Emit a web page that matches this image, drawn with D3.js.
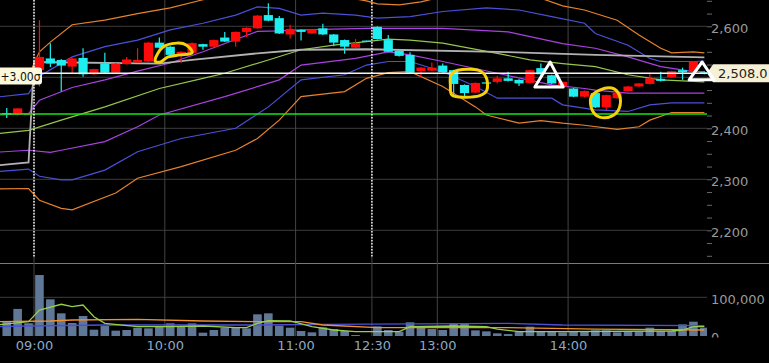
<!DOCTYPE html>
<html>
<head>
<meta charset="utf-8">
<script src="https://cdn.jsdelivr.net/npm/d3@7"></script>
<style>
body { margin: 0; background: #000; overflow: hidden; }
</style>
</head>
<body>
<script>
var width = 769, height = 363;

// 5-minute candles, slot 0 = 09:00, slot 31 = 12:30 (first three are previous day)
var firstSlot = -3;
var opens  = [2430,2426,2428, 2514,2537,2534,2521,2538,2506,2527,2509,2526,2529,2531,2568,2560,2544,2548,2565,2560,2578,2570,2589,2596,2622,2616,2584,2593,2586,2596,2584,2573,2558,2572, 2599,2573,2552,2544,2512,2513,2523,2514,2485,2470,2490,2491,2498,2495,2489,2518,2504,2482,2478,2462,2469,2441,2459,2473,2482,2487,2497,2500,2514,2511,2510];
var highs  = [2440,2440,2428, 2612,2567,2536,2538,2557,2517,2548,2528,2540,2557,2569,2578,2561,2551,2568,2566,2574,2589,2590,2598,2622,2645,2620,2603,2594,2595,2605,2585,2574,2575,2572, 2600,2583,2553,2549,2520,2529,2527,2515,2486,2490,2491,2503,2511,2496,2515,2527,2505,2492,2479,2474,2470,2466,2471,2483,2489,2509,2511,2513,2519,2532,2512];
var lows   = [2420,2425,2428, 2482,2520,2472,2508,2501,2505,2508,2508,2525,2528,2530,2557,2543,2528,2547,2554,2559,2569,2560,2579,2595,2610,2585,2576,2572,2585,2583,2561,2546,2557,2571, 2574,2549,2541,2508,2500,2512,2509,2465,2461,2469,2488,2488,2492,2483,2488,2505,2487,2481,2461,2461,2440,2436,2458,2472,2481,2486,2492,2499,2495,2510,2506];
var closes = [2429,2439,2428, 2540,2527,2523,2537,2506,2516,2509,2527,2535,2534,2568,2558,2544,2550,2567,2560,2573,2570,2589,2597,2621,2611,2586,2595,2589,2594,2584,2568,2560,2567,2571, 2575,2550,2542,2509,2519,2519,2510,2487,2469,2489,2489,2498,2493,2488,2514,2506,2488,2491,2462,2473,2441,2465,2470,2482,2488,2498,2493,2512,2510,2531,2508];
var volumes = [37000,70000,33000, 157600,94800,58600,33600,51700,16300,25800,13800,15500,21500,19800,25800,32700,25800,32700,8600,15500,21500,21500,19800,56000,58600,26600,21500,12900,9500,22400,18000,12900,2600,0, 25000,15500,11200,35400,25800,18000,15500,32700,31000,14600,12000,6900,5000,11200,24100,12900,12900,9500,12900,11200,14600,14600,9500,12900,11200,21500,12900,12900,30100,37000,21500];

// bands: [slot, price]
var bandUp3 = [[-4,2503],[-1,2503],[0,2550],[1,2569],[3,2603],[6,2612],[9,2625],[12,2636],[15,2652],[18,2663],[24,2671],[28,2657],[30,2650],[31,2644],[33,2642],[35,2648],[38,2663],[44,2663],[46,2655],[48,2640],[50,2632],[53,2612],[55,2583],[57,2557],[58,2548],[60,2550],[61,2548]];
var bandUp2 = [[-4,2461],[-1,2468],[0,2502],[3,2540],[6,2560],[9,2573],[12,2593],[15,2606],[18,2622],[20,2638],[22,2635],[24,2622],[26,2626],[29,2622],[31,2616],[34,2619],[37,2629],[41,2636],[44,2632],[47,2619],[50,2606],[51,2586],[54,2563],[56,2537],[57,2531],[60,2531],[61,2532]];
var bandUp1 = [[-4,2426],[-1,2429],[0,2455],[3,2480],[6,2495],[9,2512],[12,2528],[15,2550],[20,2590],[22,2591],[24,2593],[30,2596],[37,2596],[43,2589],[48,2566],[51,2557],[54,2540],[57,2521],[60,2511],[61,2511]];
var bandMid = [[-4,2389],[-1,2396],[2,2416],[6,2442],[11,2478],[15,2498],[17,2508],[21,2534],[24,2554],[27,2563],[30,2570],[32,2575],[34,2573],[37,2567],[42,2547],[45,2534],[48,2527],[51,2521],[54,2505],[57,2495],[61,2491]];
var bandLo1 = [[-4,2353],[-1,2357],[1,2353],[2,2357],[6,2374],[9,2403],[11,2426],[17,2462],[22,2495],[24,2524],[29,2537],[32,2550],[34,2544],[37,2531],[42,2508],[47,2485],[50,2478],[51,2475],[54,2469],[61,2469]];
var bandLo2 = [[-4,2315],[-1,2320],[0,2306],[2,2299],[3,2299],[6,2318],[9,2354],[13,2380],[18,2400],[21,2442],[24,2495],[28,2505],[30,2524],[32,2531],[34,2531],[37,2511],[40,2482],[42,2459],[47,2459],[48,2446],[51,2436],[54,2433],[56,2446],[58,2450],[61,2450]];
var bandLo3 = [[-4,2281],[-1,2282],[0,2259],[2,2243],[3,2240],[7,2273],[9,2302],[13,2325],[18,2357],[20,2380],[22,2416],[24,2462],[28,2472],[30,2498],[32,2509],[34,2511],[37,2482],[40,2442],[41,2426],[44,2410],[46,2415],[48,2410],[50,2406],[53,2398],[55,2403],[56,2416],[58,2431],[61,2431]];
var vwap    = [[-4,2327],[-1,2333],[-0.5,2530],[11,2527],[14,2534],[20,2547],[24,2554],[30,2555],[42,2550],[51,2544],[61,2539]];

// volume moving averages: [slot, volume]
var volMaShort = [[-4,28400],[-1,37000],[0,67000],[2,82000],[3,75700],[4,80000],[5,49900],[6,32800],[9,24000],[12,24000],[15,25800],[18,21400],[19,21400],[20,32800],[21,39500],[23,38800],[25,24000],[27,15500],[29,11100],[33,11100],[34,24000],[38,25800],[41,24000],[42,18000],[44,11100],[48,11100],[58,12900],[59,15500],[60,24000],[61,24000]];
var volMaMid   = [[-4,24000],[-1,25800],[6,28400],[20,28400],[26,30200],[43,32800],[48,28400],[61,26600]];
var volMaLong  = [[-4,37000],[1,38800],[3,41300],[9,43200],[15,38800],[20,37000],[24,37000],[26,28400],[31,21400],[43,21400],[51,18000],[61,15500]];

var timeTicks  = [0, 12, 24, 31, 37, 49];
var timeLabels = ["09:00", "10:00", "11:00", "12:30", "13:00", "14:00"];
var sessionStarts = [0, 31];
var priceGrid = [2200, 2300, 2400, 2500, 2600];
var priceLabels = [2200, 2300, 2400, 2600]; // 2,500 sits under the last price tag
var priceMinor = d3.range(2150, 2651, 25);
var volTicks = [0, 100000];
var prevClose = 2428, lastPrice = 2508;

// hand drawn marks on the chart: [slot, price]
var circleA = [[10.6,2534],[11.3,2559],[12.6,2567],[13.5,2563],[14,2548],[12.9,2544],[11.8,2540],[11.1,2530]];
var circleB = [[37.75,2504],[38.4,2514],[40.25,2514],[41,2499],[41.05,2475],[40.4,2464],[39,2461],[37.85,2465],[37.7,2485]];
var circleC = [[51.4,2475],[52.5,2479],[53.2,2465],[53.2,2440],[52.5,2424],[51.4,2422],[50.7,2436],[50.6,2461]];
var triangleA = [[46.85,2530],[45.45,2481],[48.05,2481]];
var triangleB = [[60.8,2530],[59.6,2495],[61.9,2495]];

var plotRight = 707;

var svg = d3.select("body").append("svg")
    .attr("width", width)
    .attr("height", height)
    .style("font-family", "'DejaVu Sans', Verdana, sans-serif");

svg.append("rect").attr("width", width).attr("height", height).attr("fill", "#000");

var x = d3.scaleLinear().domain([0, 60]).range([39.45, 693.45]);
var y = d3.scaleLinear().domain([2400, 2600]).range([128.3, 26.3]);
var yv = d3.scaleLinear().domain([0, 100000]).range([336, 297.3]);

var defs = svg.append("defs");
defs.append("clipPath").attr("id", "mainClip")
    .append("rect").attr("x", 0).attr("y", 0).attr("width", plotRight).attr("height", 258);
defs.append("clipPath").attr("id", "volClip")
    .append("rect").attr("x", 0).attr("y", 263).attr("width", plotRight).attr("height", 73);
// used inside the axis group, which is already shifted to plotRight
defs.append("clipPath").attr("id", "volLabelClip")
    .append("rect").attr("x", 0).attr("y", 263).attr("width", 62).attr("height", 74.5);

// grid
var grid = svg.append("g");
grid.selectAll(".hgrid").data(priceGrid).enter().append("line")
    .attr("x1", 0).attr("x2", plotRight)
    .attr("y1", d => y(d)).attr("y2", d => y(d))
    .attr("stroke", "#3d3d3d");
grid.append("line")
    .attr("x1", 0).attr("x2", plotRight).attr("y1", yv(100000)).attr("y2", yv(100000))
    .attr("stroke", "#3d3d3d");
grid.append("line")
    .attr("x1", 0).attr("x2", width).attr("y1", 263.5).attr("y2", 263.5)
    .attr("stroke", "#7a7a7a");
grid.selectAll(".vgrid").data(timeTicks).enter().append("line")
    .attr("x1", d => x(d - 0.5)).attr("x2", d => x(d - 0.5))
    .attr("y1", 0).attr("y2", 336)
    .attr("stroke", "#444");

// bands
var main = svg.append("g").attr("clip-path", "url(#mainClip)");
var line = d3.line().x(d => x(d[0])).y(d => y(d[1]));
var bands = [
  [bandUp3, "#e6822c", 1.2], [bandLo3, "#e6822c", 1.2],
  [bandUp2, "#4c50d8", 1.2], [bandLo2, "#4c50d8", 1.2],
  [bandUp1, "#a842e0", 1.2], [bandLo1, "#a842e0", 1.2],
  [bandMid, "#96c64c", 1.2], [vwap, "#b2b2b2", 1.8]
];
bands.forEach(function(b) {
  main.append("path").datum(b[0])
      .attr("d", line)
      .attr("fill", "none")
      .attr("stroke", b[1])
      .attr("stroke-width", b[2]);
});

// candles
var candles = opens.map(function(o, i) {
  return {s: firstSlot + i, o: o, h: highs[i], l: lows[i], c: closes[i], v: volumes[i]};
});
var upColor = "#ff0a0a", downColor = "#1eeef0";
var cg = main.selectAll(".candle").data(candles).enter().append("g");
cg.append("line")
    .attr("x1", d => x(d.s)).attr("x2", d => x(d.s))
    .attr("y1", d => y(d.h)).attr("y2", d => y(d.l))
    .attr("stroke", d => d.c >= d.o ? upColor : downColor)
    .attr("stroke-width", 1.2);
cg.append("rect")
    .attr("x", d => x(d.s) - 4.6)
    .attr("width", 9.2)
    .attr("y", d => y(Math.max(d.o, d.c)))
    .attr("height", d => Math.max(1.2, Math.abs(y(d.o) - y(d.c))))
    .attr("fill", d => d.c >= d.o ? upColor : downColor);

// reference lines
main.append("line")
    .attr("x1", 0).attr("x2", plotRight).attr("y1", y(prevClose)).attr("y2", y(prevClose))
    .attr("stroke", "#14e614").attr("stroke-width", 1.3);
main.append("line")
    .attr("x1", 0).attr("x2", plotRight).attr("y1", y(lastPrice)).attr("y2", y(lastPrice))
    .attr("stroke", "#f2f2f2").attr("stroke-width", 1.5);

// session separators
svg.selectAll(".sess").data(sessionStarts).enter().append("line")
    .attr("x1", d => x(d - 0.5)).attr("x2", d => x(d - 0.5))
    .attr("y1", 0).attr("y2", 258)
    .attr("stroke", "#fff").attr("stroke-width", 1.4)
    .attr("stroke-dasharray", "1.5,1.5");

// volume
var vol = svg.append("g").attr("clip-path", "url(#volClip)");
vol.selectAll(".vbar").data(candles).enter().append("rect")
    .attr("x", d => x(d.s) - 4.3)
    .attr("width", 8.6)
    .attr("y", d => yv(d.v))
    .attr("height", d => yv(0) - yv(d.v))
    .attr("fill", "#5f7898");
var vline = d3.line().x(d => x(d[0])).y(d => yv(d[1]));
[[volMaMid, "#4c50d8"], [volMaLong, "#f0902e"], [volMaShort, "#94d04a"]].forEach(function(m) {
  vol.append("path").datum(m[0])
      .attr("d", vline)
      .attr("fill", "none")
      .attr("stroke", m[1])
      .attr("stroke-width", 1.3);
});

// hand drawn annotations
var loop = d3.line().x(d => x(d[0])).y(d => y(d[1])).curve(d3.curveCardinalClosed);
[circleA, circleB, circleC].forEach(function(c) {
  main.append("path").datum(c)
      .attr("d", loop)
      .attr("fill", "none")
      .attr("stroke", "#f4d20c")
      .attr("stroke-width", 3);
});
var tri = d3.line().x(d => x(d[0])).y(d => y(d[1])).curve(d3.curveLinearClosed);
main.append("path").datum(triangleA)
    .attr("d", tri).attr("fill", "none")
    .attr("stroke", "#fff").attr("stroke-width", 3).attr("stroke-linejoin", "round");

// axes
var minorAxis = svg.append("g")
    .attr("transform", "translate(" + plotRight + ",0)")
    .call(d3.axisRight(y).tickValues(priceMinor).tickSize(5).tickFormat(""));
minorAxis.select(".domain").remove();
minorAxis.selectAll("line").attr("stroke", "#6a6a6a");

var priceAxis = svg.append("g")
    .attr("transform", "translate(" + plotRight + ",0)")
    .call(d3.axisRight(y).tickValues(priceLabels).tickSize(0).tickPadding(4).tickFormat(d3.format(",")));
priceAxis.select(".domain").remove();
priceAxis.selectAll("text")
    .attr("fill", "#9a9a9a").attr("font-size", 13)
    .attr("font-family", "'DejaVu Sans', Verdana, sans-serif")
    .attr("dy", "0.5em");

var volAxis = svg.append("g")
    .attr("transform", "translate(" + plotRight + ",0)")
    .attr("clip-path", "url(#volLabelClip)")
    .call(d3.axisRight(yv).tickValues(volTicks).tickSize(0).tickPadding(4).tickFormat(d3.format(",")));
volAxis.select(".domain").remove();
volAxis.selectAll("text")
    .attr("fill", "#9a9a9a").attr("font-size", 13)
    .attr("font-family", "'DejaVu Sans', Verdana, sans-serif")
    .attr("dy", "0.45em");

var timeAxis = svg.append("g")
    .attr("transform", "translate(0,336)")
    .call(d3.axisBottom(x).tickValues(timeTicks.map(t => t - 0.5)).tickSize(0).tickPadding(5)
      .tickFormat((d, i) => timeLabels[i]));
timeAxis.select(".domain").remove();
timeAxis.selectAll("text")
    .attr("fill", "#8ea8c6").attr("font-size", 13)
    .attr("font-family", "'DejaVu Sans', Verdana, sans-serif");

// last price tag
var tagY = y(lastPrice);
svg.append("path")
    .attr("d", "M" + plotRight + "," + tagY + "L" + (plotRight + 6) + "," + (tagY - 9) +
         "L" + width + "," + (tagY - 9) + "L" + width + "," + (tagY + 9) +
         "L" + (plotRight + 6) + "," + (tagY + 9) + "Z")
    .attr("fill", "#f5f0d6");
svg.append("text")
    .attr("x", plotRight + 11).attr("y", tagY + 5)
    .attr("font-size", 13).attr("fill", "#222")
    .text(d3.format(",.1f")(lastPrice));

svg.append("path").datum(triangleB)
    .attr("d", tri).attr("fill", "none")
    .attr("stroke", "#fff").attr("stroke-width", 3).attr("stroke-linejoin", "round");

// +3 sigma tag at left
svg.append("rect")
    .attr("x", -4).attr("y", 67.5).attr("width", 46).attr("height", 17).attr("rx", 3)
    .attr("fill", "#fcf8dc");
svg.append("text")
    .attr("x", 0.5).attr("y", 80.5)
    .attr("font-size", 12.5).attr("fill", "#111")
    .attr("textLength", 40).attr("lengthAdjust", "spacingAndGlyphs")
    .text("+3.00σ");
</script>
</body>
</html>
